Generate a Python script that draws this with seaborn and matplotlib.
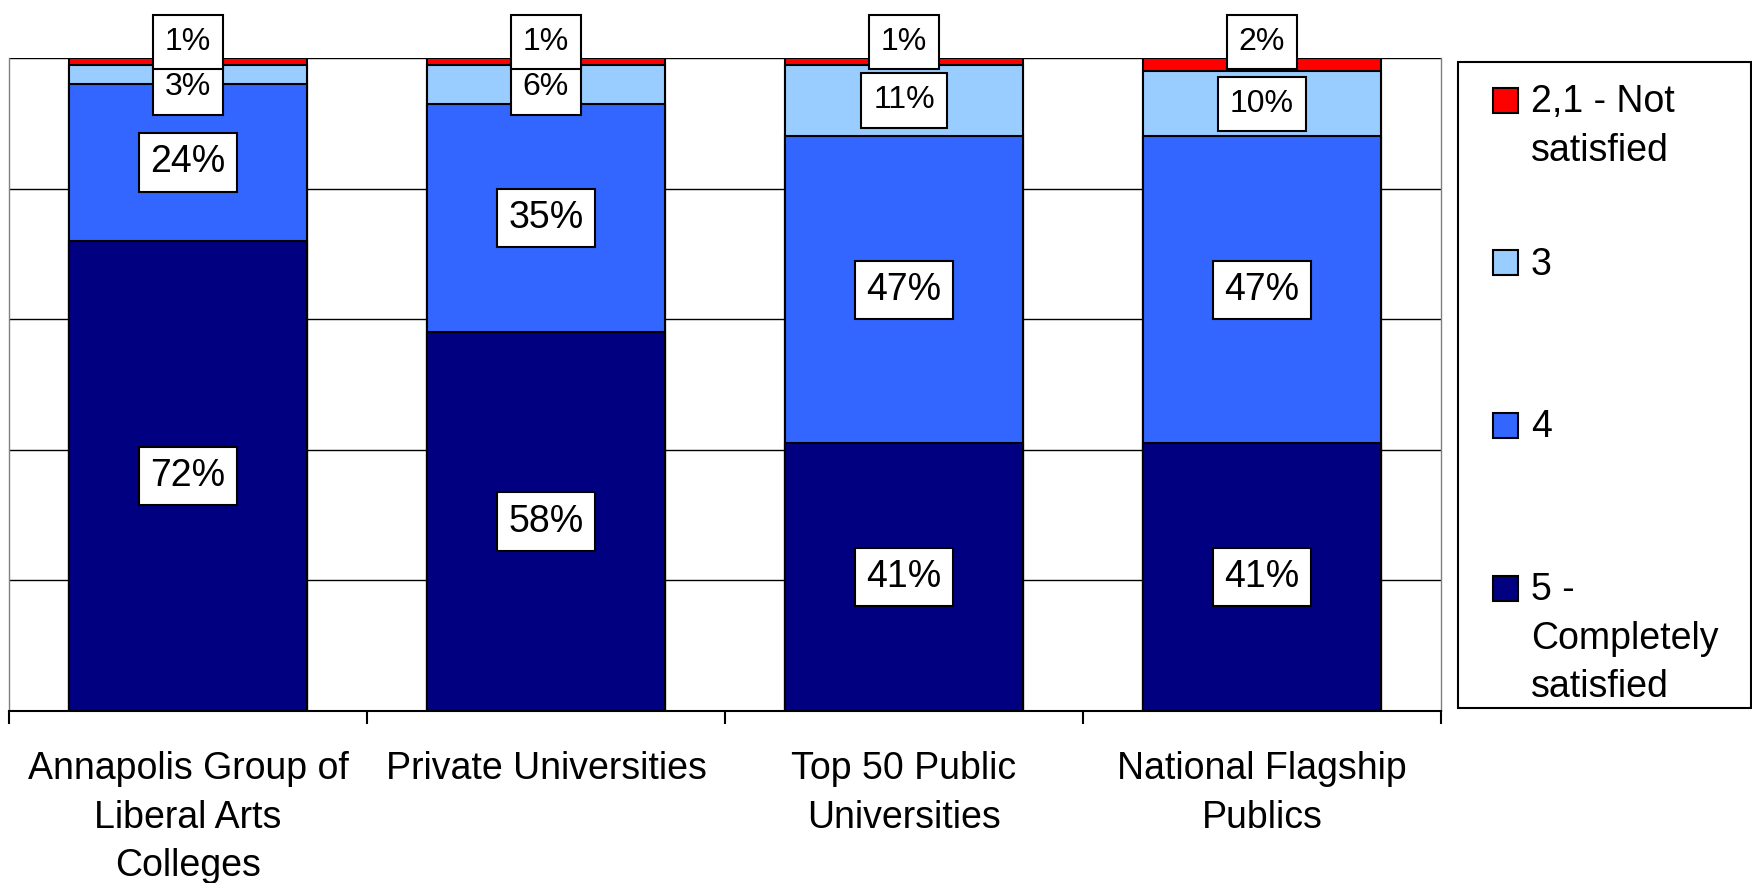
import numpy as np
import matplotlib
matplotlib.use("Agg")
import matplotlib.pyplot as plt
from matplotlib.patches import Rectangle
import seaborn as sns

# chart data (percent of respondents)
categories = [
    "Annapolis Group of\nLiberal Arts\nColleges",
    "Private Universities",
    "Top 50 Public\nUniversities",
    "National Flagship\nPublics",
]
completely_satisfied = [72, 58, 41, 41]
rating_4 = [24, 35, 47, 47]
rating_3 = [3, 6, 11, 10]
not_satisfied = [1, 1, 1, 2]

series_names = ["5 -\nCompletely\nsatisfied", "4", "3", "2,1 - Not\nsatisfied"]
series_values = [completely_satisfied, rating_4, rating_3, not_satisfied]
series_colors = ["#000080", "#3366FF", "#99CCFF", "#FF0000"]

W, H = 1752, 883
sns.set_style("white")
plt.rcParams["font.family"] = ["Liberation Sans", "DejaVu Sans"]
plt.rcParams["text.color"] = "black"
plt.rcParams["xtick.color"] = "black"

fig = plt.figure(figsize=(W / 100, H / 100), dpi=100)
ax = fig.add_axes([9 / W, 1 - 711 / H, (1441 - 9) / W, (711 - 58) / H])

data = np.array(series_values, dtype=float)
cum = np.cumsum(data, axis=0)

# stacked bars: draw cumulative totals from the tallest down
for k in range(len(series_names) - 1, -1, -1):
    sns.barplot(x=categories, y=cum[k], color=series_colors[k], width=0.667,
                edgecolor="black", linewidth=1.5, saturation=1, ax=ax, zorder=2)

ax.set_ylim(0, 100)
ax.set_xlim(-0.5, len(categories) - 0.5)
ax.set_yticks([20, 40, 60, 80, 100])
ax.set_yticklabels([])
ax.tick_params(axis="y", length=0)
ax.yaxis.grid(True, color="black", linewidth=1.0)
ax.set_axisbelow(True)
ax.set_xlabel("")
ax.set_ylabel("")

# ticks at category boundaries, labels at centres
ax.set_xticks(np.arange(len(categories) + 1) - 0.5)
ax.set_xticklabels([])
ax.set_xticks(np.arange(len(categories)), minor=True)
ax.set_xticklabels(categories, minor=True, fontsize=27, linespacing=1.45, color="black")
ax.tick_params(axis="x", which="major", direction="out", length=9, width=1.5, color="black", bottom=True)
ax.tick_params(axis="x", which="minor", length=0, pad=29)

for side in ["left", "right"]:
    ax.spines[side].set_color("#808080")
    ax.spines[side].set_linewidth(1.0)
ax.spines["top"].set_visible(False)
ax.spines["bottom"].set_color("black")
ax.spines["bottom"].set_linewidth(1.5)

# data labels
for k in range(len(series_names)):
    for i in range(len(categories)):
        val = data[k, i]
        top = cum[k, i]
        center = top - val / 2
        size, pad = 27, 0.3
        if k == 2:
            center = min(center, 95.5)
            size, pad = 23, 0.38
        elif k == 3:
            center = top + 2.5
            size, pad = 23, 0.38
        box = dict(facecolor="white", edgecolor="black", linewidth=1.5,
                   boxstyle=f"square,pad={pad}")
        ax.text(i, center, f"{int(val)}%", ha="center", va="center",
                fontsize=size, color="black", bbox=box, zorder=5)

# legend box drawn in figure pixels
fig.patches.append(Rectangle((1458 / W, 1 - 708 / H), (1751 - 1458) / W, (708 - 62) / H,
                             transform=fig.transFigure, facecolor="white",
                             edgecolor="black", linewidth=1.5))
first_y, step = 100, 162.7
for j, k in enumerate(range(len(series_names) - 1, -1, -1)):
    yc = first_y + j * step
    fig.patches.append(Rectangle((1493 / W, 1 - (yc + 12.5) / H), 25 / W, 25 / H,
                                 transform=fig.transFigure, facecolor=series_colors[k],
                                 edgecolor="black", linewidth=1.5))
    fig.text(1531 / W, 1 - (yc - 16) / H, series_names[k], ha="left", va="top",
             fontsize=27, color="black", linespacing=1.45)

fig.savefig("out.png", dpi=100)
